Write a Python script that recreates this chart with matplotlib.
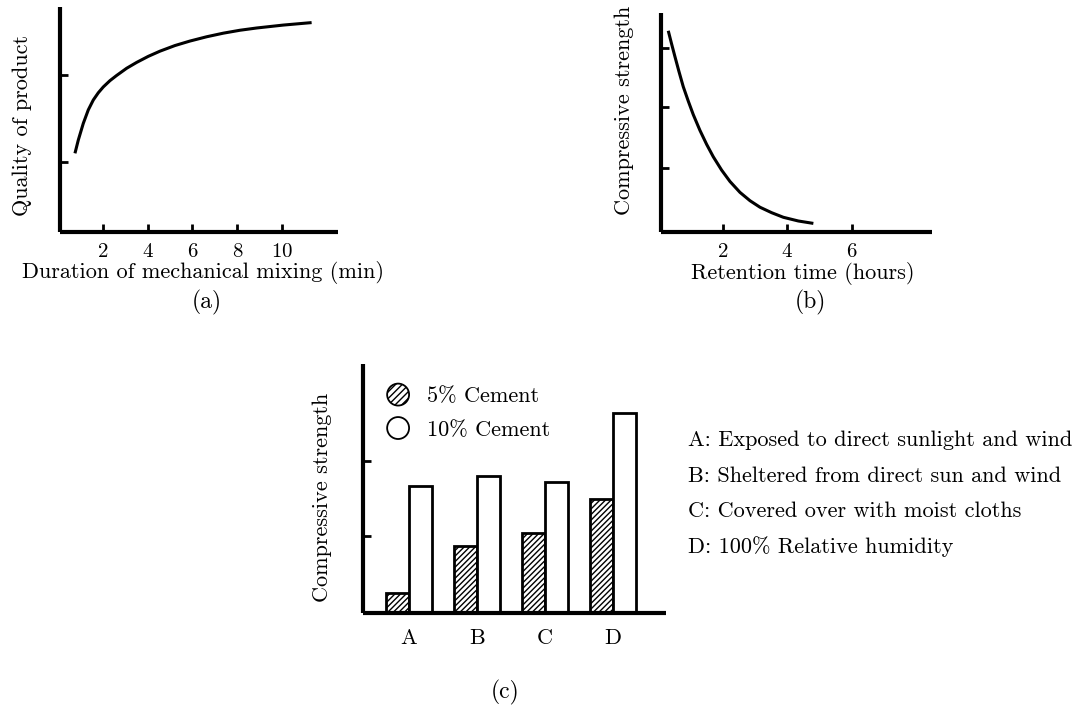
import matplotlib
matplotlib.use("Agg")
import matplotlib.pyplot as plt
import matplotlib.patches as mpatches
from matplotlib.legend_handler import HandlerPatch

plt.rcParams["font.family"] = ["cmr10", "DejaVu Serif"]
plt.rcParams["mathtext.fontset"] = "cm"
plt.rcParams["axes.unicode_minus"] = False
plt.rcParams["axes.formatter.use_mathtext"] = True
plt.rcParams["hatch.linewidth"] = 1.0

# (a) quality of product vs duration of mechanical mixing
mixing_min = [0.766, 0.915, 1.137, 1.360, 1.583, 1.805, 2.028, 2.325, 2.622, 3.068,
              3.513, 4.033, 4.552, 5.220, 5.889, 6.631, 7.373, 8.116, 8.858, 10.046, 11.308]
quality = [3.51, 4.10, 4.84, 5.44, 5.88, 6.20, 6.46, 6.74, 6.97, 7.29,
           7.55, 7.82, 8.05, 8.30, 8.50, 8.69, 8.85, 8.98, 9.08, 9.21, 9.32]
mixing_ticks = [2, 4, 6, 8, 10]
quality_ticks = [3.14, 6.99]

# (b) compressive strength vs retention time
retention_h = [0.320, 0.423, 0.526, 0.650, 0.784, 0.939, 1.094, 1.300, 1.507, 1.713,
               1.971, 2.229, 2.539, 2.848, 3.158, 3.519, 3.880, 4.345, 4.809]
strength_b = [9.20, 8.60, 8.02, 7.34, 6.64, 5.98, 5.36, 4.64, 4.00, 3.43,
              2.82, 2.30, 1.80, 1.42, 1.12, 0.87, 0.66, 0.49, 0.38]
retention_ticks = [2, 4, 6]
strength_b_ticks = [2.93, 5.72, 8.42]

# (c) compressive strength for curing conditions
conditions = ["A", "B", "C", "D"]
cement_5 = [0.80, 2.70, 3.20, 4.59]
cement_10 = [5.10, 5.49, 5.25, 8.03]
strength_c_ticks = [3.09, 6.09]
condition_notes = [
    "A: Exposed to direct sunlight and wind",
    "B: Sheltered from direct sun and wind",
    "C: Covered over with moist cloths",
    "D: 100% Relative humidity",
]

FS = 16
TICK_FS = 15
W, H = 1083, 705
fig = plt.figure(figsize=(W / 100, H / 100), dpi=100)


def px_axes(left, top, right, bottom):
    return fig.add_axes([left / W, 1 - bottom / H, (right - left) / W, (bottom - top) / H])


def style(ax):
    for s in ("top", "right"):
        ax.spines[s].set_visible(False)
    for s in ("left", "bottom"):
        ax.spines[s].set_linewidth(3.0)
        ax.spines[s].set_capstyle("butt")
    ax.tick_params(direction="in", length=6, width=2.0, labelsize=TICK_FS, pad=8)
    ax.set_yticklabels([])


# ---- (a)
ax_a = px_axes(60, 7.3, 337.7, 232.3)
ax_a.plot(mixing_min, quality, color="black", lw=2.2, solid_capstyle="butt")
ax_a.set_xlim(0.1, 12.47)
ax_a.set_ylim(0, 10)
ax_a.set_xticks(mixing_ticks)
ax_a.set_yticks(quality_ticks)
style(ax_a)
ax_a.set_xlabel("Duration of mechanical mixing (min)", fontsize=FS, va="center")
ax_a.xaxis.set_label_coords((203 - 60) / 277.7, (232.3 - 273) / 225)
ax_a.set_ylabel("Quality of product", fontsize=FS, va="center")
ax_a.yaxis.set_label_coords((22 - 60) / 277.7, (232.3 - 125) / 225)

# ---- (b)
ax_b = px_axes(660.5, 13.3, 931.7, 231.7)
ax_b.plot(retention_h, strength_b, color="black", lw=2.2, solid_capstyle="butt")
ax_b.set_xlim(0.08, 8.47)
ax_b.set_ylim(0, 10)
ax_b.set_xticks(retention_ticks)
ax_b.set_yticks(strength_b_ticks)
style(ax_b)
ax_b.set_xlabel("Retention time (hours)", fontsize=FS, va="center")
ax_b.xaxis.set_label_coords((803 - 660.5) / 271.2, (231.7 - 273) / 218.4)
ax_b.set_ylabel("Compressive strength", fontsize=FS, va="center")
ax_b.yaxis.set_label_coords((624 - 660.5) / 271.2, (231.7 - 110) / 218.4)

# ---- (c)
ax_c = px_axes(362.7, 364, 666, 613.3)
idx = list(range(len(conditions)))
bw = 0.34
ax_c.bar([i - bw / 2 for i in idx], cement_5, width=bw, facecolor="white",
         edgecolor="black", linewidth=2.0, hatch="//////", label="5% Cement")
ax_c.bar([i + bw / 2 for i in idx], cement_10, width=bw, facecolor="white",
         edgecolor="black", linewidth=2.0, label="10% Cement")
ax_c.set_xlim(-0.676, 3.784)
ax_c.set_ylim(0, 9.97)
ax_c.set_xticks(idx)
ax_c.set_xticklabels(conditions)
ax_c.set_yticks(strength_c_ticks)
style(ax_c)
ax_c.tick_params(axis="x", length=0, pad=11, labelsize=FS)
ax_c.set_ylabel("Compressive strength", fontsize=FS, va="center")
ax_c.yaxis.set_label_coords((322 - 362.7) / 303.3, (613.3 - 497) / 249.3)


class HandlerCircle(HandlerPatch):
    def create_artists(self, legend, orig_handle, xdescent, ydescent, width, height, fontsize, trans):
        center = (0.5 * width - xdescent, 0.5 * height - ydescent)
        p = mpatches.Circle(center, radius=0.5 * height + 1.0)
        self.update_prop(p, orig_handle, legend)
        p.set_linewidth(1.3)
        p.set_transform(trans)
        return [p]


h5 = mpatches.Patch(facecolor="white", edgecolor="black", hatch="/////")
h10 = mpatches.Patch(facecolor="white", edgecolor="black")
fig.legend([h5, h10], ["5% Cement", "10% Cement"], loc="upper left",
           bbox_to_anchor=(387 / W, 1 - 385 / H), frameon=False, fontsize=FS,
           handler_map={mpatches.Patch: HandlerCircle()}, handlelength=1.0,
           handleheight=0.95, handletextpad=0.8, labelspacing=0.55,
           borderpad=0, borderaxespad=0)

for note, y in zip(condition_notes, [440, 476, 511, 547]):
    fig.text(688 / W, 1 - y / H, note, fontsize=FS, ha="left", va="center")

for tag, x, y in [("(a)", 207, 302), ("(b)", 810, 302), ("(c)", 505, 692)]:
    fig.text(x / W, 1 - y / H, tag, fontsize=FS + 1, ha="center", va="center")

fig.savefig("out.png", dpi=100)
